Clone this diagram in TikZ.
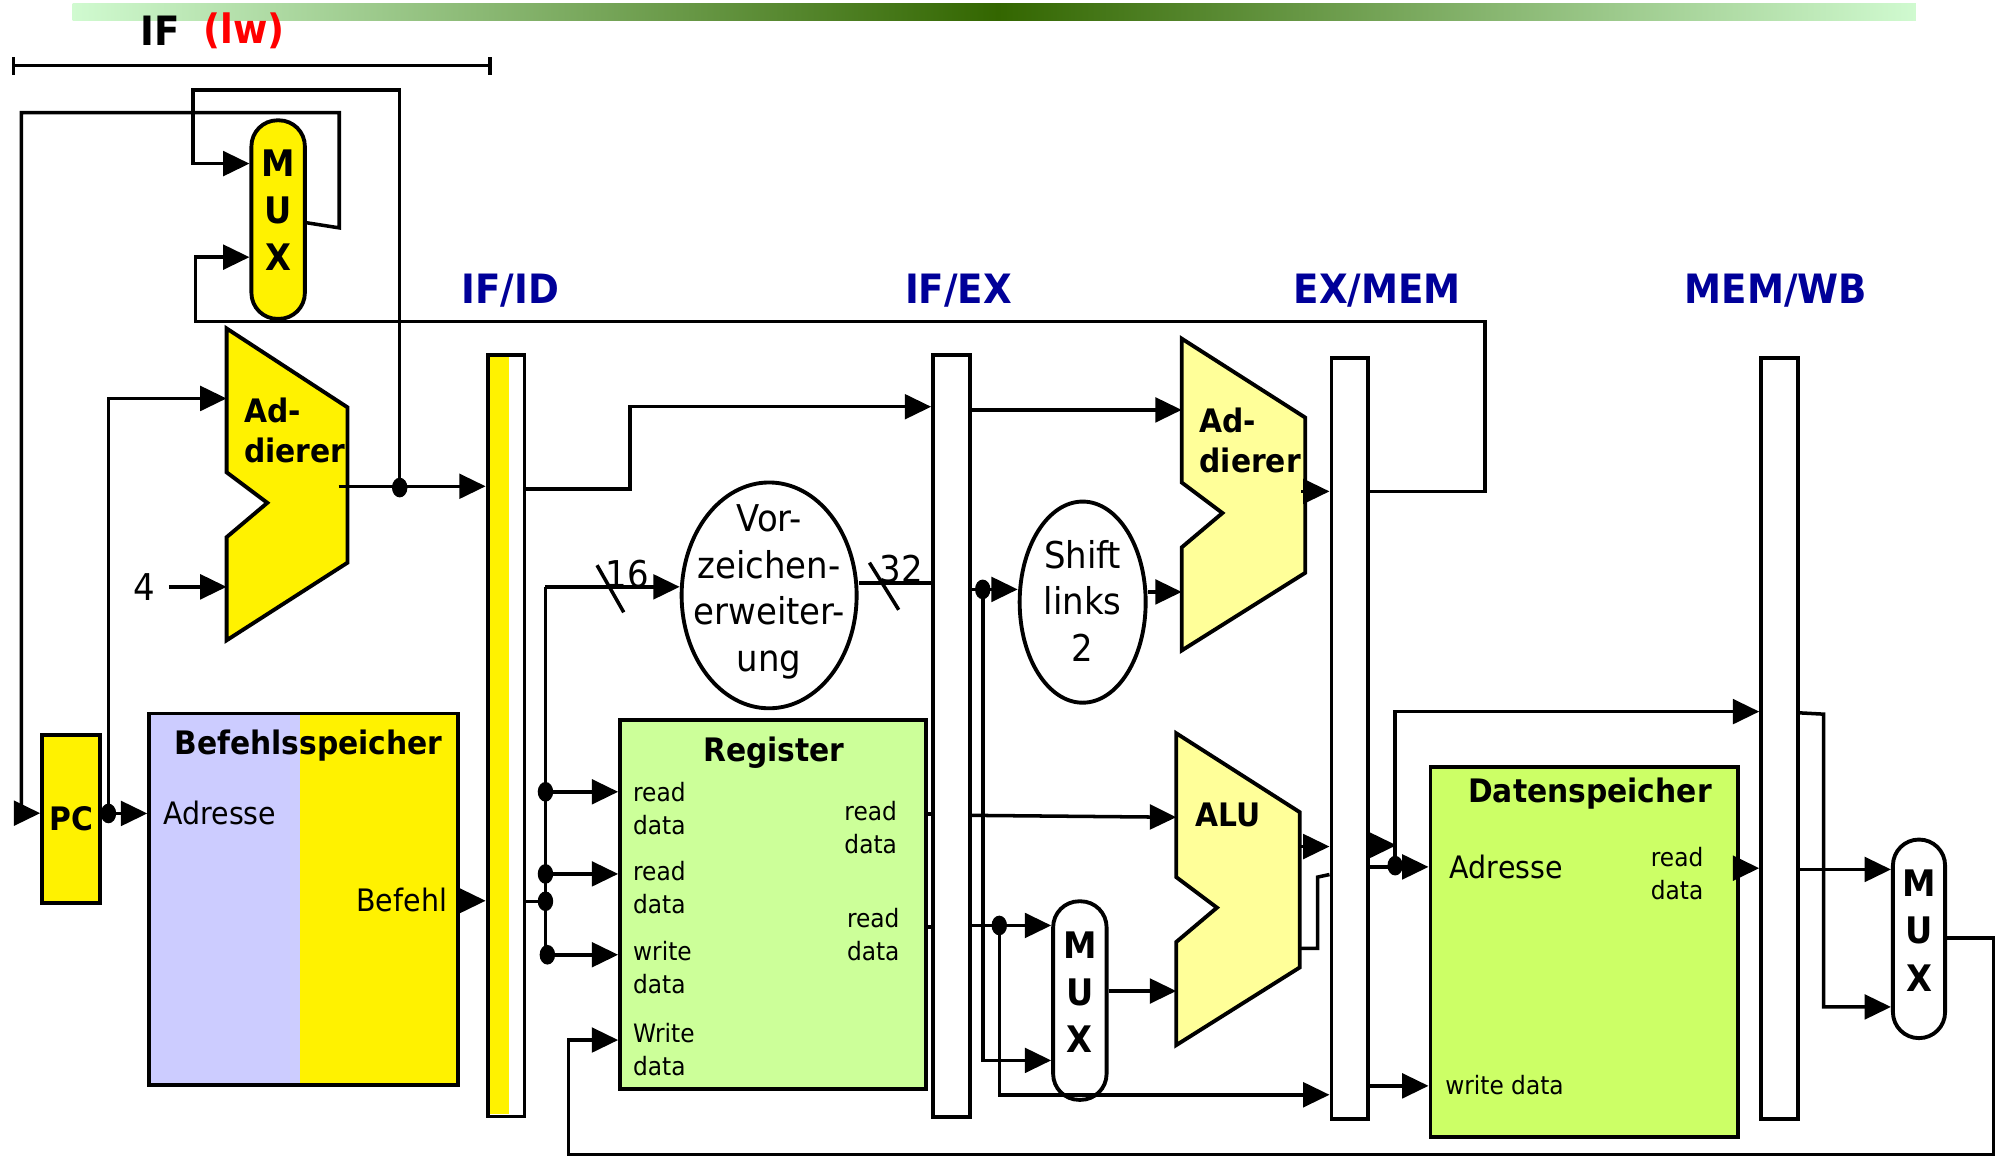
\documentclass[tikz,border=0pt]{standalone}
\usepackage{fontspec}
\setmainfont[FakeStretch=0.92]{DejaVu Sans}
\usepackage{tikz}
\usetikzlibrary{positioning}
\usetikzlibrary{calc}
\usetikzlibrary{arrows.meta}
\usetikzlibrary{shapes.geometric}
\usepackage{xcolor}

\definecolor{stageblue}{RGB}{0,0,153}
\definecolor{imemblue}{RGB}{204,204,255}
\definecolor{regsgreen}{RGB}{204,255,153}
\definecolor{memgreen}{RGB}{204,255,102}
\definecolor{ltyellow}{RGB}{255,255,153}
\definecolor{topdark}{RGB}{51,102,0}
\definecolor{toplight}{RGB}{208,250,208}

\newcommand{\upx}{0.01273cm}
\newcommand{\stagefont}{\fontsize{11.5pt}{13pt}\selectfont\bfseries}
\newcommand{\blockfont}{\fontsize{9.2pt}{11.4pt}\selectfont\bfseries}
\newcommand{\muxfont}{\fontsize{10.4pt}{13.4pt}\selectfont\bfseries}
\newcommand{\portfont}{\fontsize{8.8pt}{10.5pt}\selectfont}
\newcommand{\smallportfont}{\fontsize{7.2pt}{9.4pt}\selectfont}
\newcommand{\ellfont}{\fontsize{10.5pt}{13.3pt}\selectfont}

% adder outline: name, top left corner, width, fill
\newcommand{\adder}[4]{%
\coordinate (#1) at (#2);
\draw[block, fill=#4] (#1)--++(#3,62)--++(0,122)--++(-#3,61)--++(0,-81)--++(32,-27)--++(-32,-24)--cycle;
}

\begin{document}
\begin{tikzpicture}[x=0.01273cm, y=-0.01273cm, line width=1pt,
 arr/.style={-{Triangle[length=7.5pt,width=7pt]}},
 block/.style={draw, line width=1.1pt},
 reg/.style={block, anchor=north west, inner sep=0pt, minimum width=29*\upx, minimum height=598*\upx},
 mux/.style={block, rounded corners=0.26cm, inner sep=0pt, minimum width=42*\upx, minimum height=156*\upx},
 muxlbl/.style={font=\muxfont, align=center, inner sep=0pt},
 dot/.style={fill, ellipse, inner sep=0pt, minimum width=4.4pt, minimum height=5.6pt},
 stage/.style={font=\stagefont, text=stageblue, inner sep=0pt},
 port/.style={font=\smallportfont, align=left, inner sep=0pt, anchor=west}]

\useasboundingbox (0,0) rectangle (1568,909);

% top bar
\shade[left color=toplight, right color=topdark] (57,2.6) rectangle (784,16.3);
\shade[left color=topdark, right color=toplight] (783.5,2.6) rectangle (1505,16.3);

% IF bracket
\node[stage, text=black] (iflbl) at (126,24) {IF};
\node[stage, text=red] (lwlbl) at (192,24) {(lw)};
\draw (10.5,51.6) -- (385,51.6);
\draw (10.5,45) -- (10.5,59);
\draw (385,45) -- (385,59);

% stage labels
\node[stage] (lifid) at (401,228) {IF/ID};
\node[stage] (lidex) at (753,228) {IF/EX};
\node[stage] (lexmem) at (1082,228) {EX/MEM};
\node[stage] (lmemwb) at (1395,228) {MEM/WB};

% pipeline registers
\fill[yellow] (383,279) rectangle (399.5,875);
\node[reg] (ifid) at (381.5,277.5) {};
\node[reg] (idex) at (731.5,277.6) {};
\node[reg] (exmem) at (1044.4,279.7) {};
\node[reg] (memwb) at (1382,279.7) {};

% PC
\node[block, fill=yellow, anchor=north west, minimum width=45.4*\upx, minimum height=131.7*\upx, inner sep=0pt, font=\blockfont] (pc) at (31.6,575.8) {PC};

% Befehlsspeicher
\fill[imemblue] (115.7,559) rectangle (235.7,851);
\fill[yellow] (235.7,559) rectangle (358.4,851);
\node[block, anchor=north west, minimum width=242.7*\upx, minimum height=292*\upx] (imem) at (115.7,559) {};
\node[font=\blockfont, inner sep=0pt] (imemname) at (242.4,586) {Befehlsspeicher};
\node[font=\portfont, inner sep=0pt, anchor=west] (imemaddr) at (127,639) {Adresse};
\node[font=\portfont, inner sep=0pt, anchor=east] (imemout) at (352.5,707) {Befehl};

% Register
\node[block, fill=regsgreen, anchor=north west, minimum width=240*\upx, minimum height=290*\upx] (regs) at (485.6,564) {};
\node[font=\blockfont, inner sep=0pt] (regsname) at (608,591.6) {Register};
\node[port] (rr1) at (496,635) {read\\data};
\node[port] (rr2) at (496,697) {read\\data};
\node[port] (rw) at (496,760) {write\\data};
\node[port] (rwd) at (496,824.5) {Write\\data};
\node[port] (ro1) at (662,650) {read\\data};
\node[port] (ro2) at (664,734) {read\\data};

% Datenspeicher
\node[block, fill=memgreen, anchor=north west, minimum width=241.3*\upx, minimum height=290.6*\upx] (dmem) at (1122.2,601) {};
\node[font=\blockfont, inner sep=0pt] (dmemname) at (1249,623) {Datenspeicher};
\node[font=\portfont, inner sep=0pt, anchor=west] (dmemaddr) at (1137.6,681) {Adresse};
\node[port] (dmemrd) at (1295.5,686) {read\\data};
\node[font=\smallportfont, inner sep=0pt, anchor=west] (dmemwd) at (1134,852.3) {write data};

% ellipses
\node[block, ellipse, minimum width=137.5*\upx, minimum height=177.4*\upx, inner sep=0pt] (sext) at (604.2,467.7) {};
\node[font=\ellfont, align=center, inner sep=0pt] (sexttxt) at (604.2,465) {Vor-\\zeichen-\\erweiter-\\ung};
\node[block, ellipse, minimum width=99*\upx, minimum height=158*\upx, inner sep=0pt] (shl) at (850.5,473) {};
\node[font=\ellfont, align=center, inner sep=0pt] (shltxt) at (850.5,472) {Shift\\links\\2};

% MUX
\node[mux, fill=yellow] (mux1) at (218.5,172.5) {};
\node[muxlbl] (mux1txt) at (218.5,165) {M\\U\\X};
\node[mux, fill=white] (mux2) at (848.3,786) {};
\node[muxlbl] (mux2txt) at (848.3,779.5) {M\\U\\X};
\node[mux, fill=white, minimum width=41*\upx] (mux3) at (1507.5,737.5) {};
\node[muxlbl] (mux3txt) at (1507.5,731) {M\\U\\X};

% adders and ALU
\adder{add1}{178,258}{95}{yellow}
\adder{add2}{928.3,266}{97}{ltyellow}
\adder{alu}{924,576}{97}{ltyellow}
\node[font=\blockfont, align=left, inner sep=0pt, anchor=west] (add1txt) at (190.4,338) {Ad-\\dierer};
\node[font=\blockfont, align=left, inner sep=0pt, anchor=west] (add2txt) at (941,346) {Ad-\\dierer};
\node[font=\blockfont, inner sep=0pt, anchor=west] (alutxt) at (937.8,640) {ALU};

% small labels
\node[font=\ellfont] (four) at (113.5,461) {4};
\node[font=\ellfont, inner sep=0pt] (w16) at (493,451) {16};
\node[font=\ellfont, inner sep=0pt] (w32) at (708,447) {32};

% dots
\node[dot] (pcdot) at (85.2,639) {};
\node[dot] (add1dot) at (314,383) {};
\node[dot] (bus1) at (428.5,622) {};
\node[dot] (bus2) at (428.5,686.5) {};
\node[dot] (bus3) at (428.5,708) {};
\node[dot] (bus4) at (430,750) {};
\node[dot] (shldot) at (772,463) {};
\node[dot] (rd2dot) at (785,727) {};
\node[dot] (aludot) at (1096,680) {};

% IF wires
\draw[arr] (mux1.east |- 0,175) -- (266.5,179) -- (266.5,88.5) -- (16.8,88.5) -- (16.8,638.8) -- (pc.west |- 0,638.8);
\draw[arr] (pc.east |- 0,639) -- (imem.west |- 0,639);
\draw[arr] (pcdot.center) |- ($(add1)+(0,55)$);
\draw[arr] (four) -- ($(add1)+(0,203)$);
\draw[arr] ($(add1)+(88,124)$) -- (ifid.west |- 0,382);
\draw[arr] (add1dot.center) |- (151.5,70.7) |- (mux1.west |- 0,128.5);
\draw[arr] (exmem.east |- 0,386) -| (1166.4,252.7) -| (153.6,202) -- (mux1.west |- 0,202);
\draw[arr] (imem.east |- 0,707.6) -- (ifid.west |- 0,707.6);

% ID wires
\draw[arr] (ifid.east |- 0,384) -| (495,319.5) -- (idex.west |- 0,319.5);
\draw (ifid.east |- 0,708) -- (bus3.center);
\draw (428.5,461) -- (428.5,750);
\draw[arr] (428.5,461) -- (sext.west |- 0,461);
\draw (469,444) -- (490,481);
\draw[arr] (bus1.center) -- (regs.west |- 0,622);
\draw[arr] (bus2.center) -- (regs.west |- 0,686.5);
\draw[arr] (bus4.center) -- (regs.west |- 0,750);
\draw[arr] (mux3.east |- 0,737) -- (1566,737) |- (446.5,907) |- (regs.west |- 0,817);
\draw (sext.east |- 0,458) -- (idex.west |- 0,458);
\draw (683,442) -- (706,479);
\draw (regs.east |- 0,639.5) -- (idex.west |- 0,639.5);
\draw (regs.east |- 0,728) -- (idex.west |- 0,728);

% EX wires
\draw[arr] (idex.east |- 0,322) -- ($(add2)+(0,56)$);
\draw (idex.east |- 0,463) -- (shldot.center);
\draw[arr] (shldot.center) -- (shl.west |- 0,463);
\draw[arr] (shldot.center) |- (mux2.west |- 0,833);
\draw[arr] (shl.east |- 0,465) -- ($(add2)+(0,199)$);
\draw[arr] (idex.east |- 0,640.5) -- ($(alu)+(0,66)$);
\draw (idex.east |- 0,727) -- (rd2dot.center);
\draw[arr] (rd2dot.center) -- (mux2.west |- 0,727);
\draw[arr] (rd2dot.center) |- (exmem.west |- 0,860);
\draw[arr] (mux2.east |- 0,778.5) -- ($(alu)+(0,202.5)$);
\draw[arr] ($(add2)+(94,120)$) -- (exmem.west |- 0,386);
\draw[arr] ($(alu)+(97,89)$) -- (exmem.west |- 0,665);
\draw ($(alu)+(97,169)$) -| (1035,689) -- (exmem.west |- 0,687);

% MEM wires
\draw[arr] (exmem.east |- 0,664) -- (1097,664);
\draw[arr] (exmem.east |- 0,681) -- (dmem.west |- 0,681);
\draw[arr] (aludot.center) |- (memwb.west |- 0,559);
\draw[arr] (exmem.east |- 0,853) -- (dmem.west |- 0,853);
\draw[arr] (dmem.east |- 0,682) -- (memwb.west |- 0,682);

% WB wires
\draw[arr] (memwb.east |- 0,683) -- (mux3.west |- 0,683);
\draw[arr] (memwb.east |- 0,560) -- (1432.5,561) |- (mux3.west |- 0,791);

\end{tikzpicture}
\end{document}
